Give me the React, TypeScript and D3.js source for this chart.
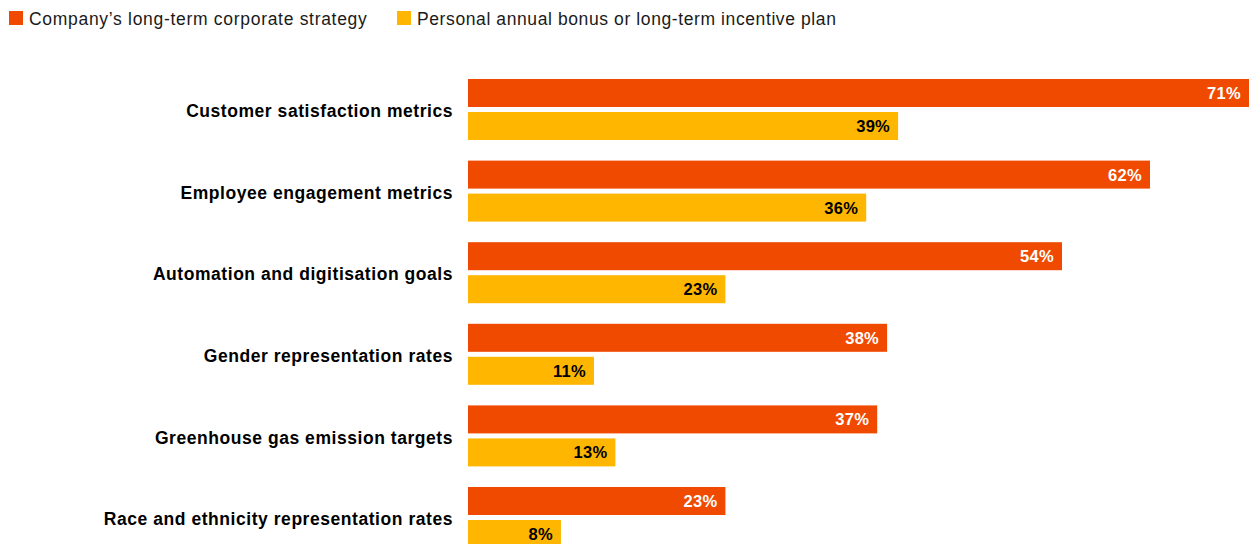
import React from 'react'
import * as d3 from 'd3'

const categories = [
  'Customer satisfaction metrics',
  'Employee engagement metrics',
  'Automation and digitisation goals',
  'Gender representation rates',
  'Greenhouse gas emission targets',
  'Race and ethnicity representation rates',
]
// underlying shares (labels shown rounded)
const strategyValues = [71, 62.0, 54, 38.1, 37.2, 23.4]
const bonusValues = [39.1, 36.2, 23.4, 11.45, 13.4, 8.45]
const seriesNames = [
  'Company’s long-term corporate strategy',
  'Personal annual bonus or long-term incentive plan',
]
const colors = ['#F04A00', '#FFB600']

const width = 1250
const height = 544
const barH = 28
const font = '"Liberation Sans", Arial, Helvetica, sans-serif'

export default function App() {
  const x = d3.scaleLinear().domain([0, 71]).range([468, 1249])
  const y = d3.scaleBand().domain(categories).range([79, 79 + 6 * 81.6]).paddingInner(0)

  const legendX = [9, 397]

  return (
    <svg
      width={width}
      height={height}
      style={{ position: 'absolute', left: 0, top: 0, fontFamily: font }}
    >
      {seriesNames.map((name, i) => (
        <g key={name} transform={`translate(${legendX[i]},11)`}>
          <rect width={14} height={14} fill={colors[i]} />
          <text x={20} y={7.5} dy="0.35em" fontSize={17.5} letterSpacing={i === 0 ? 0.7 : 0.6} fill="#1a1a1a">
            {name}
          </text>
        </g>
      ))}
      {categories.map((c, i) => {
        const top = y(c) as number
        const vals = [strategyValues[i], bonusValues[i]]
        return (
          <g key={c}>
            <text
              x={453}
              y={top + 32}
              dy="0.35em"
              textAnchor="end"
              fontSize={17.5}
              letterSpacing={0.55}
              fontWeight="bold"
              fill="#000"
            >
              {c}
            </text>
            {vals.map((v, j) => (
              <g key={j}>
                <rect
                  x={x(0)}
                  y={top + j * 33}
                  width={x(v) - x(0)}
                  height={barH}
                  fill={colors[j]}
                />
                <text
                  x={x(v) - 8}
                  y={top + j * 33 + barH / 2}
                  dy="0.36em"
                  textAnchor="end"
                  fontSize={16.5}
                  letterSpacing={0.3}
                  fontWeight="bold"
                  fill={j === 0 ? '#fff' : '#000'}
                >
                  {Math.round(v)}%
                </text>
              </g>
            ))}
          </g>
        )
      })}
    </svg>
  )
}
